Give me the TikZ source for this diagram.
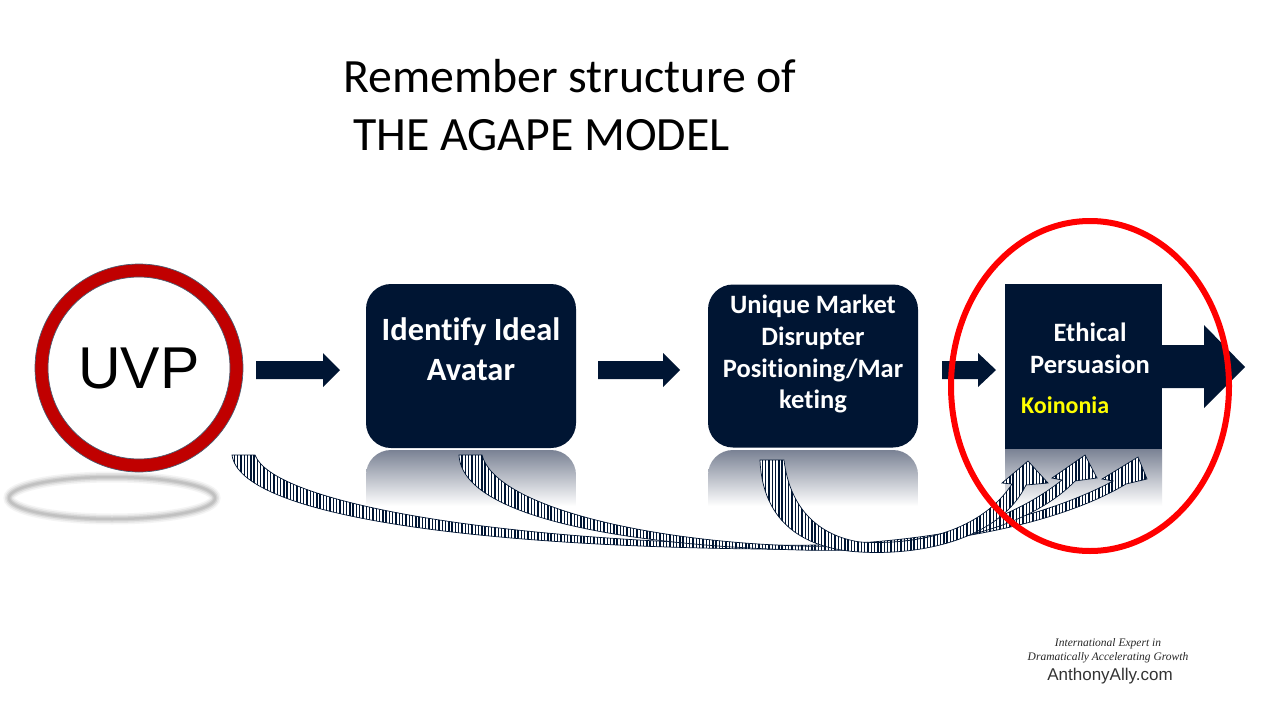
\documentclass[tikz,border=0pt]{standalone}
\usepackage{fontspec}
\setmainfont{Carlito}[Ligatures=NoCommon]
\newfontfamily\arialf{Liberation Sans}
\newfontfamily\timesf{Liberation Serif}
\usetikzlibrary{patterns.meta,calc}
\definecolor{navy}{RGB}{0,21,51}
\definecolor{ringred}{RGB}{192,0,0}
\definecolor{refl}{RGB}{122,130,148}
\definecolor{koin}{RGB}{255,255,0}
\tikzset{
  titletext/.style={anchor=base west, inner sep=0pt, font=\fontsize{47.8}{56}\selectfont},
  boxshape/.style={fill=navy, draw=none, inner sep=0pt},
  boxtext/.style={anchor=base, inner sep=0pt, text=white},
  blockarrow/.style={fill=navy, draw=none},
  stripearrow/.style={draw=navy, line width=0.7pt, preaction={fill=white},
     pattern={Lines[angle=90,distance=3.3pt,line width=1.4pt]}, pattern color=navy},
  wm/.style={inner sep=0pt, anchor=center}
}
\begin{document}
\begin{tikzpicture}[x=1pt,y=-1pt]
\useasboundingbox (0,0) rectangle (1280,720);
\fill[white] (0,0) rectangle (1280,720);

% title
\node[titletext] (title1) at (343,92) {Remember structure of};
\node[titletext] (title2) at (353,150) {THE AGAPE MODEL};

% shadow ellipse under UVP
\foreach \w/\o in {11/0.12, 8/0.2, 5/0.3, 2.5/0.35}{
  \draw[black!35, line width=\w pt, opacity=\o] (112,498) ellipse [x radius=103pt, y radius=21pt];
}

% UVP ring
\node[circle, draw=ringred, line width=13pt, fill=white, minimum size=195pt, inner sep=0pt,
      font=\arialf\fontsize{59}{59}\selectfont] (uvp) at (139,368) {UVP};
\draw[navy!70, line width=0.7pt] (uvp.center) circle [radius=104pt];
\draw[navy!70, line width=0.7pt] (uvp.center) circle [radius=91pt];

% reflections
\begin{scope}
  \clip[rounded corners=25pt] (366,450) rectangle (576,600);
  \shade[top color=refl, bottom color=white] (366,450) rectangle (576,506);
\end{scope}
\begin{scope}
  \clip[rounded corners=25pt] (708,450) rectangle (918,600);
  \shade[top color=refl, bottom color=white] (708,450) rectangle (918,506);
\end{scope}
\shade[top color=refl, bottom color=white] (1005,449) rectangle (1162,506);

% boxes
\node[boxshape, rounded corners=25pt, minimum width=210pt, minimum height=164pt] (box1) at (471,366) {};
\node[boxshape, rounded corners=25pt, minimum width=210pt, minimum height=163pt] (box2) at (813,366) {};
\node[boxshape, minimum width=157pt, minimum height=165pt] (box3) at (1083.5,366) {};

% box texts
\begin{scope}[every node/.append style={font=\bfseries\fontsize{32.5}{36}\selectfont}]
\node[boxtext] (b1a) at (471,340) {Identify Ideal};
\node[boxtext] (b1b) at (471,380) {Avatar};
\end{scope}
\begin{scope}[every node/.append style={font=\bfseries\fontsize{26.5}{30}\selectfont}]
\node[boxtext] (b2a) at (813,313) {Unique Market};
\node[boxtext] (b2b) at (813,345) {Disrupter};
\node[boxtext] (b2c) at (813,377) {Positioning/Mar};
\node[boxtext] (b2d) at (813,408) {keting};
\node[boxtext] (b3a) at (1090,341) {Ethical};
\node[boxtext] (b3b) at (1090,373) {Persuasion};
\end{scope}
\node[anchor=base west, inner sep=0pt, text=koin, font=\bfseries\fontsize{24}{28}\selectfont] (koin) at (1021,413) {Koinonia};

% small block arrows
\coordinate (a1s) at (256,370);
\coordinate (a2s) at (598,370);
\coordinate (a3s) at (942,370);
\fill[blockarrow] (a1s) ++(0,-9) -- ++(67,0) -- ++(0,-8) -- ++(17,17) -- ++(-17,17) -- ++(0,-8) -- ++(-67,0) -- cycle;
\fill[blockarrow] (a2s) ++(0,-9) -- ++(65,0) -- ++(0,-8) -- ++(17,17) -- ++(-17,17) -- ++(0,-8) -- ++(-65,0) -- cycle;
\fill[blockarrow] (a3s) ++(0,-9) -- ++(36,0) -- ++(0,-8) -- ++(18,17) -- ++(-18,17) -- ++(0,-8) -- ++(-36,0) -- cycle;

% big arrow out of box3
\fill[blockarrow] ($(box3.east)+(-4,-21)$) -- (1204,345) -- (1204,325) -- (1245,367) -- (1204,408) -- (1204,388) -- ($(box3.east)+(-4,22)$) -- cycle;

% striped curved arrows
% from UVP to right head
\path[stripearrow] (232,455) -- (255,455)
  .. controls (272,500) and (470,538) .. (760,545)
  .. controls (930,549) and (1050,515) .. (1113,481)
  -- (1102,479) -- (1138,457) -- (1147,479) -- (1126,484)
  .. controls (1060,524) and (930,553) .. (760,549)
  .. controls (470,546) and (240,515) .. (232,455) -- cycle;
% from box1 to middle head
\path[stripearrow] (459,455) -- (482,455)
  .. controls (495,505) and (640,541) .. (800,546)
  .. controls (930,550) and (1012,520) .. (1062,480)
  -- (1052,478) -- (1085,455) -- (1097,478) -- (1075,481)
  .. controls (1032,526) and (940,554) .. (800,550)
  .. controls (640,546) and (462,520) .. (459,455) -- cycle;
% from box2 to left head
\path[stripearrow] (760,460) -- (784,460)
  .. controls (790,510) and (820,536) .. (860,542)
  .. controls (930,546) and (985,525) .. (1012,484)
  -- (1002,483) -- (1028,461) -- (1048,483) -- (1026,485)
  .. controls (1002,535) and (930,556) .. (860,552)
  .. controls (790,548) and (762,510) .. (760,460) -- cycle;

% red ellipse
\draw[red, line width=6pt] (1090,386) ellipse [x radius=139pt, y radius=165pt];

% watermark
\node[wm, font=\timesf\itshape\fontsize{11.5}{13}\selectfont, text=black!85] (w1) at (1108,644) {International Expert in};
\node[wm, font=\timesf\itshape\fontsize{11.5}{13}\selectfont, text=black!85] (w2) at (1108,658) {Dramatically Accelerating Growth};
\node[wm, font=\arialf\fontsize{17}{20}\selectfont, text=black!80] (w3) at (1110,676) {AnthonyAlly.com};
\end{tikzpicture}
\end{document}
